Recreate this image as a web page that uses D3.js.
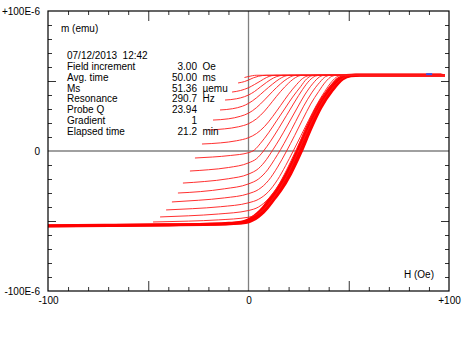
<!DOCTYPE html>
<html>
<head>
<meta charset="utf-8">
<script src="https://cdn.jsdelivr.net/npm/d3@7"></script>
<style>
  html, body { margin: 0; padding: 0; background: #fff; }
  svg { display: block; font-family: "Liberation Sans", Arial, sans-serif; }
  svg text { white-space: pre; }
</style>
</head>
<body>
<svg id="chart" width="470" height="360"></svg>
<script>
// ---------------- DATA ----------------
const xTickLabels = ["-100", "0", "+100"];
const xTickValues = [-100, 0, 100];
const yTickLabels = ["+100E-6", "0", "-100E-6"];
const yTickValues = [100, 0, -100];          // in 1E-6 emu
const xMinorTicks = [-90, -80, -70, -60, -40, -30, -20, -10, 10, 20, 30, 40, 60, 70, 80, 90];
const xMajorTicks = [-50, 50];
const yMinorTicks = [-90, -80, -70, -60, -40, -30, -20, -10, 10, 20, 30, 40, 60, 70, 80, 90];
const yMajorTicks = [-50, 50];

const yAxisTitle = "m (emu)";
const xAxisTitle = "H (Oe)";
const infoHeader = "07/12/2013  12:42";
const infoLabels = ["Field increment", "Avg. time", "Ms", "Resonance", "Probe Q", "Gradient", "Elapsed time"];
const infoValues = ["3.00", "50.00", "51.36", "290.7", "23.94", "1", "21.2"];
const infoUnits  = ["Oe", "ms", "\u00B5emu", "Hz", "", "", "min"];

// First-order reversal curves: reversal field (Oe) and [H (Oe), m (1E-6 emu)] points
const reversalFields = [-2, -5.2, -8.2, -11.7, -14.2, -17.7, -20.2, -23.2, -26.7, -29.2, -32.7, -35.2, -38.2, -41.1, -44.1, -47.6];
const forcCurves = [
  [[-2,52.5],[0,53.2],[2,53.8],[4,54.1],[98,54.1]],
  [[-5.2,48.6],[-2,49.6],[0,50.7],[2.5,52.3],[5,53.4],[7,53.9],[9,54.1],[98,54.1]],
  [[-8.2,42.1],[-4,43.2],[0,45.2],[3,47.5],[6,50],[9,52.5],[11.6,53.8],[14,54.1],[98,54.1]],
  [[-11.7,36.4],[-6,37.3],[-2,38.8],[0,40],[3,42.5],[6,45.8],[9,49],[12.5,52.2],[15.7,53.8],[18,54.1],[98,54.1]],
  [[-14.2,29.3],[-8,30.2],[-3,32],[0,34],[4,38],[8,43],[12,47.8],[15.5,51.5],[19,53.8],[21.5,54.1],[98,54.1]],
  [[-17.7,22.1],[-10,23],[-4,24.8],[0,27],[4,31],[8,36.5],[12,42.5],[16,48],[19.5,51.8],[22.5,53.8],[25,54.1],[98,54.1]],
  [[-20.2,15],[-12,15.8],[-5,17.3],[0,19.5],[4,23],[8,28.5],[12,35.5],[16,42.5],[20,48.5],[23.5,52.5],[26.5,54],[98,54.1]],
  [[-23.2,5],[-14,5.8],[-6,7.3],[0,9.5],[4,12.5],[8,17.5],[12,24.5],[16,32.5],[20,40.5],[24,47.5],[27,51.8],[30,53.8],[33,54.1],[98,54.1]],
  [[-26.7,-5],[-18,-4.3],[-9,-3.2],[0,-1.2],[3,0.8],[6,5.5],[10,13],[14,21.5],[18,30],[22,38.5],[26,46],[29,51.5],[31.5,53.7],[34,54.1],[98,54.1]],
  [[-29.2,-14.3],[-20,-13.4],[-10,-11.8],[0,-8.5],[4,-5.5],[7.5,0],[11,7],[15,16],[19,25.5],[23,35],[27,44],[30.5,50.5],[33.5,53.6],[36,54.1],[98,54.1]],
  [[-32.7,-22.9],[-22,-21.8],[-10,-19.8],[0,-16.5],[5,-12.5],[9,-6],[12,0.5],[15.5,8.5],[19.5,18.5],[24,30],[28,40],[32,48],[35.5,53],[38,54.1],[98,54.1]],
  [[-35.2,-30],[-24,-29],[-12,-27],[0,-23.5],[5,-20],[9.5,-13.5],[13,-6],[16,1],[19.5,10],[23.5,21],[27.5,32],[31.5,41.5],[35.5,49],[38.5,53.2],[41,54.1],[98,54.1]],
  [[-38.2,-36.4],[-25,-35.2],[-12,-33.5],[0,-30.5],[5,-27.5],[10,-21],[14.5,-11.5],[19,0],[23,11],[27,22.5],[31,33.5],[35,42.5],[38.5,49.5],[41.5,53.3],[44,54.1],[98,54.1]],
  [[-41.1,-42.1],[-28,-41.2],[-14,-39.8],[0,-37],[5,-34.5],[10,-29],[14.5,-20.5],[18.5,-10.5],[22.3,0],[26,10.5],[30,22],[34,33],[38,42.5],[41.5,49.5],[44.5,53.3],[47,54.1],[98,54.1]],
  [[-44.1,-47.1],[-30,-46.3],[-15,-45],[0,-42.5],[5,-40],[10,-34],[14.5,-25.5],[19,-13.5],[23.5,0],[27.5,12.5],[31.5,24.5],[35.5,35],[40,44.5],[44,51],[47,53.6],[50,54.1],[98,54.1]],
  [[-47.6,-50.7],[-30,-50.1],[-15,-49.2],[0,-47.3],[5,-44.5],[10,-38],[15,-28],[20,-15.5],[24.5,-1.5],[29,13],[33.5,26.5],[38,37.5],[42.5,46],[46.5,51.5],[49.5,53.7],[52,54.1],[98,54.1]]
];

// Dense bundle of curves with reversal fields below -50 Oe (major ascending branch)
const bandH = [-100, -70, -40, -20, -8, -2, 0, 3, 6, 9, 12.5, 15.7, 20.7, 25.7, 30.7, 35.7, 41.5, 46.5, 50.5, 55, 98];
const bandM = [-53.5, -53.2, -52.8, -52.4, -51.8, -51, -50.3, -48.3, -45, -40.5, -34, -28, -16, -1, 16, 31, 43.6, 51.5, 53.8, 54.2, 54.2];
const bundleShiftH = [-1.8, -1.2, -0.6, 0, 0.6];
const bundleShiftM = [0.5, 0.25, 0, -0.25, -0.4];

// Small blue marker segment near positive saturation
const blueMarkH = [88.6, 91.6];
const blueMarkM = [54.9, 54.9];

// ---------------- LAYOUT ----------------
const W = 470, H = 360;
const plot = { left: 48, right: 449, top: 11, bottom: 291 };
const svg = d3.select("#chart");
svg.append("rect").attr("width", W).attr("height", H).attr("fill", "#fff");

const x = d3.scaleLinear().domain([-100, 100]).range([plot.left, plot.right]);
const y = d3.scaleLinear().domain([-100, 100]).range([plot.bottom, plot.top]);

const fontSize = 10;
const tickColor = "#333";

// zero lines
svg.append("line")
  .attr("x1", x(0)).attr("x2", x(0)).attr("y1", plot.top).attr("y2", plot.bottom)
  .attr("stroke", "#808080").attr("stroke-width", 1.3);
svg.append("line")
  .attr("x1", plot.left).attr("x2", plot.right).attr("y1", y(0)).attr("y2", y(0))
  .attr("stroke", "#808080").attr("stroke-width", 1.3);

// ticks (inside) via d3 axes
function tickAxis(axisFn, scale, vals, size, transform) {
  const g = svg.append("g").attr("transform", transform)
    .call(axisFn(scale).tickValues(vals).tickSize(size).tickFormat(""));
  g.select(".domain").remove();
  g.selectAll(".tick line").attr("stroke", tickColor).attr("stroke-width", 1);
}
tickAxis(d3.axisBottom, x, xMinorTicks, -4, `translate(0,${plot.bottom})`);
tickAxis(d3.axisBottom, x, xMajorTicks, -10, `translate(0,${plot.bottom})`);
tickAxis(d3.axisTop, x, xMinorTicks, -4, `translate(0,${plot.top})`);
tickAxis(d3.axisTop, x, xMajorTicks, -10, `translate(0,${plot.top})`);
tickAxis(d3.axisLeft, y, yMinorTicks, -4, `translate(${plot.left},0)`);
tickAxis(d3.axisLeft, y, yMajorTicks, -8, `translate(${plot.left},0)`);
tickAxis(d3.axisRight, y, yMinorTicks, -4, `translate(${plot.right},0)`);
tickAxis(d3.axisRight, y, yMajorTicks, -8, `translate(${plot.right},0)`);

// tick labels
const xl = svg.append("g").attr("transform", `translate(0,${plot.bottom})`)
  .call(d3.axisBottom(x).tickValues(xTickValues).tickSize(0).tickPadding(6)
        .tickFormat((d, i) => xTickLabels[i]));
xl.select(".domain").remove();
xl.selectAll("text").attr("font-size", fontSize).attr("font-family", "Liberation Sans, Arial, sans-serif").attr("fill", "#000");

const yl = svg.append("g").attr("transform", `translate(${plot.left},0)`)
  .call(d3.axisLeft(y).tickValues(yTickValues).tickSize(0).tickPadding(8)
        .tickFormat((d, i) => yTickLabels[i]));
yl.select(".domain").remove();
yl.selectAll("text").attr("font-size", fontSize).attr("font-family", "Liberation Sans, Arial, sans-serif").attr("fill", "#000");

// curves
const line = d3.line().x(d => x(d[0])).y(d => y(d[1])).curve(d3.curveMonotoneX);
const curvesG = svg.append("g");

// bundle (major branch)
bundleShiftH.forEach((dh, i) => {
  const pts = bandH.map((h, j) => [Math.min(h + dh, 98), bandM[j] + bundleShiftM[i]]);
  pts[0][0] = -100;
  curvesG.append("path").attr("d", line(pts))
    .attr("fill", "none").attr("stroke", "#ff0000").attr("stroke-width", 1.9);
});

forcCurves.forEach(c => {
  curvesG.append("path").attr("d", line(c))
    .attr("fill", "none").attr("stroke", "#ff1a1a").attr("stroke-width", 1)
    .attr("stroke-opacity", 0.9);
});

// blue mark
svg.append("path")
  .attr("d", d3.line().x(d => x(d[0])).y(d => y(d[1]))(blueMarkH.map((h, i) => [h, blueMarkM[i]])))
  .attr("stroke", "#3355ee").attr("stroke-width", 2).attr("fill", "none");

// frame
svg.append("rect")
  .attr("x", plot.left).attr("y", plot.top)
  .attr("width", plot.right - plot.left).attr("height", plot.bottom - plot.top)
  .attr("fill", "none").attr("stroke", "#000").attr("stroke-width", 1.2);

// titles and info text
const txt = (tx, ty, s, anchor) => svg.append("text")
  .attr("x", tx).attr("y", ty).attr("dy", "0.35em")
  .attr("font-size", fontSize).attr("text-anchor", anchor || "start")
  .attr("xml:space", "preserve")
  .attr("fill", "#000").text(s);

txt(61, 28, yAxisTitle);
txt(434, 274, xAxisTitle, "end");
txt(67, 55.5, infoHeader);
const rowY = d3.scaleLinear().domain([0, 6]).range([66.5, 131]);
infoLabels.forEach((lab, i) => {
  txt(67, rowY(i), lab);
  txt(197, rowY(i), infoValues[i], "end");
  if (infoUnits[i]) txt(202.5, rowY(i), infoUnits[i]);
});
</script>
</body>
</html>
